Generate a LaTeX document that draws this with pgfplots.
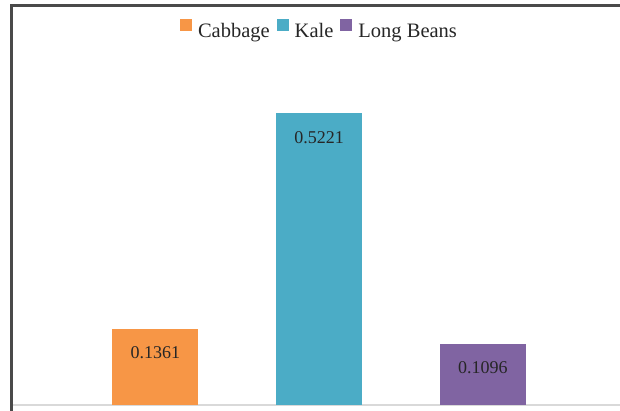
\documentclass[border=0pt]{standalone}
\usepackage{pgfplots}
\pgfplotsset{compat=1.18}
\usepackage{fontspec}
\setmainfont{Liberation Serif}
\definecolor{cab}{HTML}{F79646}
\definecolor{kal}{HTML}{4BACC6}
\definecolor{lbe}{HTML}{8064A2}
\definecolor{frm}{HTML}{4A4A4A}
\begin{document}
\begin{tikzpicture}
\useasboundingbox (0,0) rectangle (620pt,411pt);
\begin{axis}[
  at={(10pt,6pt)}, anchor=south west,
  scale only axis, width=610pt, height=335.4pt,
  xmin=-0.887, xmax=2.838, ymin=0, ymax=0.6,
  hide y axis,
  axis x line=bottom,
  x axis line style={-, draw=black!15, line width=1.8pt},
  xtick=\empty, ytick=\empty,
  ybar, bar width=86pt, bar shift=0pt,
  clip=false,
  point meta=explicit symbolic,
  nodes near coords,
  nodes near coords style={anchor=center, yshift=-24pt, font=\fontsize{18}{21}\selectfont, text=black!85},
  legend style={at={(0.5057,1.121)}, anchor=center, draw=none, fill=none,
    legend columns=-1, font=\fontsize{20.5}{24}\selectfont, text=black!85,
    nodes={inner sep=0pt},
    /tikz/every odd column/.append style={column sep=6pt},
    /tikz/every even column/.append style={column sep=7pt},
    legend cell align=left},
  legend image code/.code={\fill[#1] (0pt,0pt) rectangle (12pt,12pt);},
]
\addplot[fill=cab, draw=none] coordinates {(0,0.1361) [0.1361]};
\addplot[fill=kal, draw=none] coordinates {(1,0.5221) [0.5221]};
\addplot[fill=lbe, draw=none] coordinates {(2,0.1096) [0.1096]};
\legend{Cabbage, Kale, Long Beans}
\end{axis}
\draw[frm, line width=2.5pt] (11.5pt,0pt) -- (11.5pt,405.7pt) -- (621pt,405.7pt);
\end{tikzpicture}
\end{document}
